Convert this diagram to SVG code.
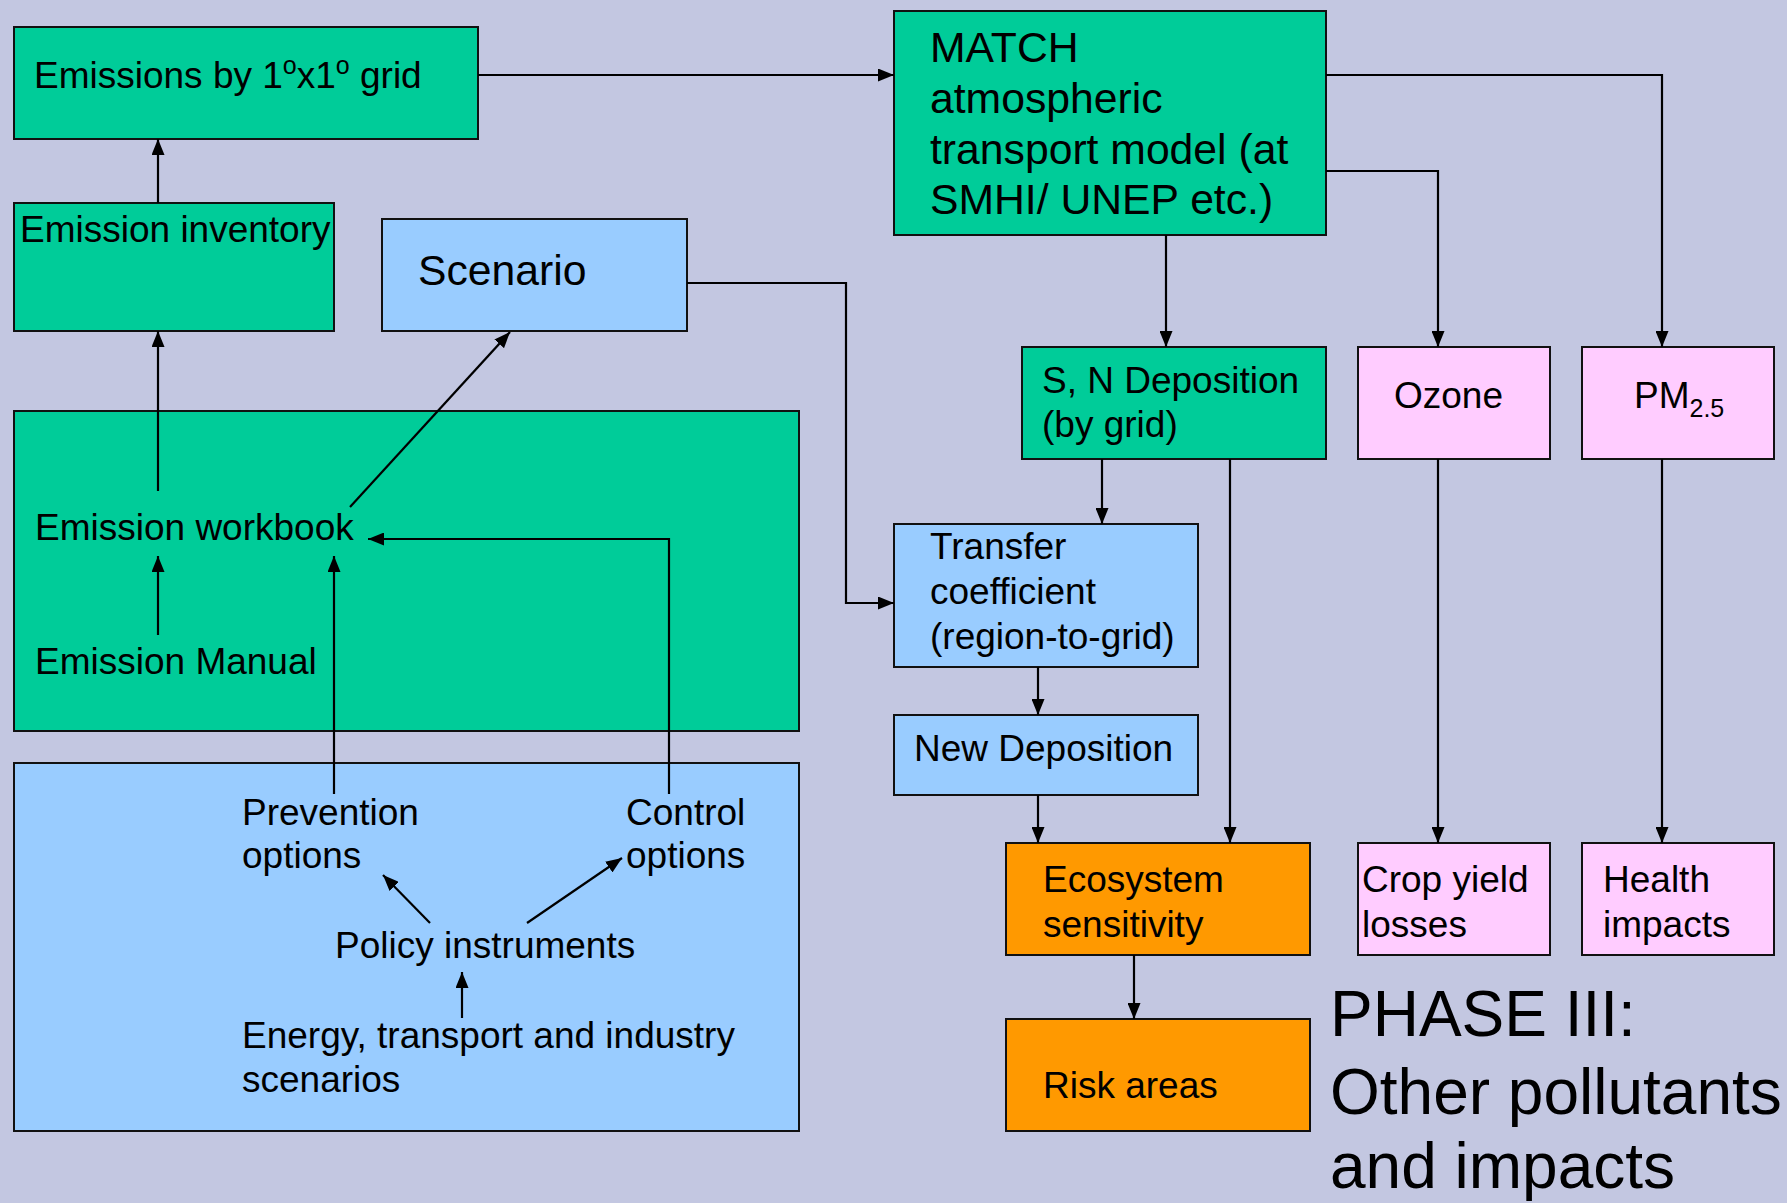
<svg xmlns="http://www.w3.org/2000/svg" width="1787" height="1203" viewBox="0 0 1787 1203">
<defs>
<marker id="ah" markerUnits="userSpaceOnUse" markerWidth="17" markerHeight="13" refX="16" refY="6.5" orient="auto">
<path d="M0,0 L16,6.5 L0,13 z" fill="#000"/>
</marker>
<style>
.box{stroke:#111;stroke-width:2}
.g{fill:#00CC99}.b{fill:#99CCFF}.p{fill:#FFCCFF}.o{fill:#FF9900}
text{font-family:"Liberation Sans",Arial,sans-serif;font-size:37px;fill:#000}
.big{font-size:42.7px}
.ph{font-size:64px}
.c{fill:none;stroke:#000;stroke-width:2.2;marker-end:url(#ah)}
</style>
</defs>
<rect width="1787" height="1203" fill="#C3C7E1"/>

<g id="emissions-grid"><rect class="box g" x="14" y="27" width="464" height="112"/>
<text x="34" y="88">Emissions by 1<tspan font-size="25" dy="-14">o</tspan><tspan dy="14">x1</tspan><tspan font-size="25" dy="-14">o</tspan><tspan dy="14"> grid</tspan></text></g>

<g id="emission-inventory"><rect class="box g" x="14" y="203" width="320" height="128"/>
<text x="20" y="242">Emission inventory</text></g>

<g id="scenario"><rect class="box b" x="382" y="219" width="305" height="112"/>
<text class="big" x="418" y="285">Scenario</text></g>

<g id="workbook-group"><rect class="box g" x="14" y="411" width="785" height="320"/>
<text x="35" y="540">Emission workbook</text>
<text x="35" y="674">Emission Manual</text></g>

<g id="policy-group"><rect class="box b" x="14" y="763" width="785" height="368"/>
<text x="242" y="825">Prevention</text><text x="242" y="868">options</text>
<text x="626" y="825">Control</text><text x="626" y="868">options</text>
<text x="335" y="958">Policy instruments</text>
<text x="242" y="1048">Energy, transport and industry</text><text x="242" y="1092">scenarios</text></g>

<g id="match"><rect class="box g" x="894" y="11" width="432" height="224"/>
<text class="big" x="930" y="62">MATCH</text>
<text class="big" x="930" y="113">atmospheric</text>
<text class="big" x="930" y="164">transport model (at</text>
<text class="big" x="930" y="214">SMHI/ UNEP etc.)</text></g>

<g id="sn-deposition"><rect class="box g" x="1022" y="347" width="304" height="112"/>
<text x="1042" y="393">S, N Deposition</text><text x="1042" y="437">(by grid)</text></g>

<g id="ozone"><rect class="box p" x="1358" y="347" width="192" height="112"/>
<text x="1394" y="408">Ozone</text></g>

<g id="pm25"><rect class="box p" x="1582" y="347" width="192" height="112"/>
<text x="1634" y="408">PM<tspan font-size="25" dy="9">2.5</tspan></text></g>

<g id="transfer"><rect class="box b" x="894" y="524" width="304" height="143"/>
<text x="930" y="559">Transfer</text><text x="930" y="604">coefficient</text><text x="930" y="649">(region-to-grid)</text></g>

<g id="new-deposition"><rect class="box b" x="894" y="715" width="304" height="80"/>
<text x="914" y="761">New Deposition</text></g>

<g id="ecosystem"><rect class="box o" x="1006" y="843" width="304" height="112"/>
<text x="1043" y="892">Ecosystem</text><text x="1043" y="937">sensitivity</text></g>

<g id="crop"><rect class="box p" x="1358" y="843" width="192" height="112"/>
<text x="1362" y="892">Crop yield</text><text x="1362" y="937">losses</text></g>

<g id="health"><rect class="box p" x="1582" y="843" width="192" height="112"/>
<text x="1603" y="892">Health</text><text x="1603" y="937">impacts</text></g>

<g id="risk"><rect class="box o" x="1006" y="1019" width="304" height="112"/>
<text x="1043" y="1098">Risk areas</text></g>

<g id="phase-label">
<text class="ph" x="1330" y="1036">PHASE III:</text>
<text class="ph" x="1330" y="1114">Other pollutants</text>
<text class="ph" x="1330" y="1188">and impacts</text></g>

<g id="connectors">
<path class="c" d="M478,75 H894"/>
<path class="c" d="M158,203 V139"/>
<path class="c" d="M158,491 V331"/>
<path class="c" d="M350,507 L510,332"/>
<path class="c" d="M158,635 V556"/>
<path class="c" d="M334,794 V556"/>
<path class="c" d="M669,794 V539 H368"/>
<path class="c" d="M430,923 L383,875"/>
<path class="c" d="M527,923 L622,858"/>
<path class="c" d="M462,1018 V972"/>
<path class="c" d="M687,283 H846 V603 H894"/>
<path class="c" d="M1326,75 H1662 V347"/>
<path class="c" d="M1326,171 H1438 V347"/>
<path class="c" d="M1166,235 V347"/>
<path class="c" d="M1102,459 V524"/>
<path class="c" d="M1230,459 V843"/>
<path class="c" d="M1038,667 V715"/>
<path class="c" d="M1038,795 V843"/>
<path class="c" d="M1134,955 V1019"/>
<path class="c" d="M1438,459 V843"/>
<path class="c" d="M1662,459 V843"/>
</g>
</svg>
